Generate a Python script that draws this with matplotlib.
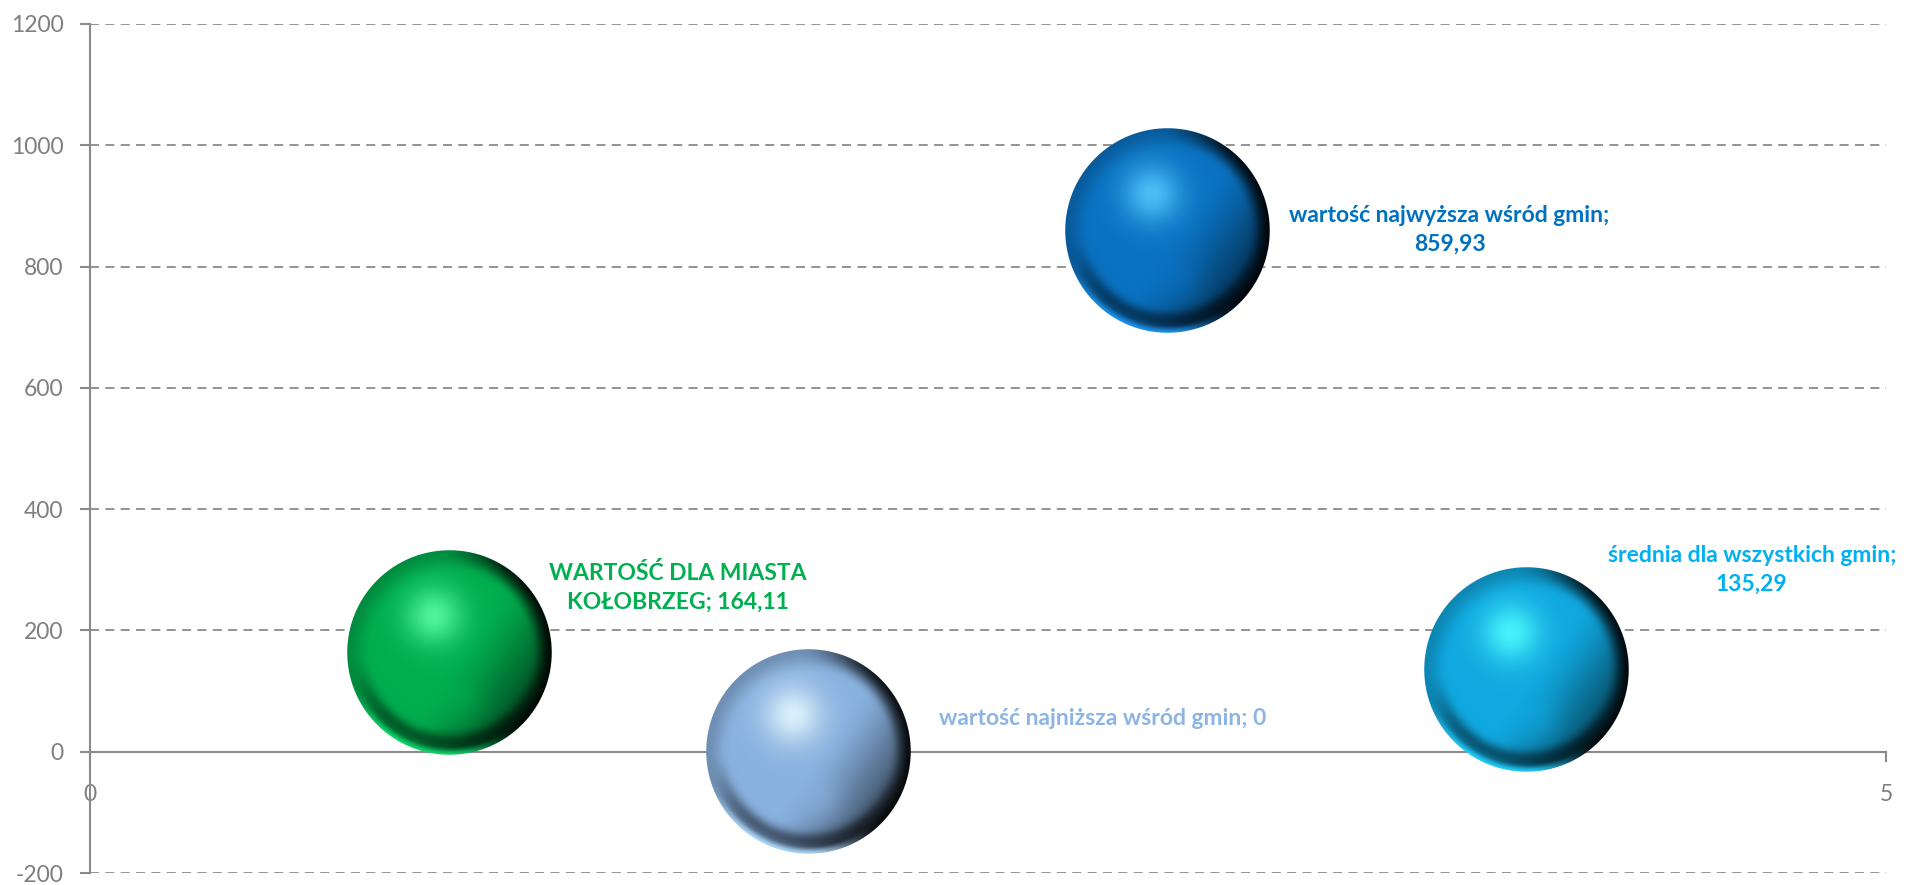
import numpy as np
import matplotlib
matplotlib.use('Agg')
import matplotlib.pyplot as plt
from matplotlib.colors import to_rgb
from matplotlib.offsetbox import OffsetImage, AnnotationBbox

plt.rcParams['font.family'] = ['Lato', 'DejaVu Sans']

# data
x_vals = [1, 2, 3, 4]
y_vals = [164.11, 0, 859.93, 135.29]
names = ['WARTOŚĆ DLA MIASTA\nKOŁOBRZEG', 'wartość najniższa wśród gmin',
         'wartość najwyższa wśród gmin;\n', 'średnia dla wszystkich gmin;\n']
value_text = ['164,11', '0', '859,93', '135,29']
colors = ['#00B050', '#8DB4E2', '#0070C0', '#00B0F0']
body = ['#00AE4E', '#8AB2E0', '#0A72C2', '#10A8E0']
highlights = ['#5CFFA8', '#E8FAFF', '#55CCFF', '#50FFFF']
y_ticks = [-200, 0, 200, 400, 600, 800, 1000, 1200]
x_ticks = [0, 5]

# label offsets in pixels from the bubble centre
offsets = [(229, 65), (294, 33), (282, 0), (225, 100)]

DPI = 100
DIAM = 205  # bubble diameter in pixels


def smooth(a, b, x):
    t = np.clip((x - a) / (b - a), 0, 1)
    return t * t * (3 - 2 * t)


def sphere(base, hl, n=410):
    c = np.array(to_rgb(base))
    h = np.array(to_rgb(hl))
    t = np.linspace(-1, 1, n)
    u, v = np.meshgrid(t, t)
    r = np.sqrt(u ** 2 + v ** 2)
    # darker towards lower right
    p = u * 0.82 + v * 0.57
    shade = 1 - 0.5 * smooth(0.05, 1.0, p)
    shade *= 1 - 0.2 * smooth(0.75, 1.0, r)
    # dark crescent on the right edge
    shade *= 1 - 0.85 * smooth(0.8, 1.0, r) * smooth(-0.1, 0.75, u)
    # dark band above the bottom rim
    band = np.exp(-((r - 0.87) / 0.08) ** 2) * smooth(0.0, 0.75, v)
    shade *= 1 - 0.42 * band
    img = c[None, None, :] * shade[..., None]
    # light reflection along the bottom edge
    rim = smooth(0.92, 1.0, r) * smooth(0.25, 0.85, v) * smooth(0.7, 0.0, u)
    lit = np.clip(c * 1.15 + 0.08, 0, 1)
    img = img + (lit[None, None, :] - img) * (0.9 * rim)[..., None]
    # main highlight
    g = np.exp(-(((u + 0.15) ** 2 + (v + 0.36) ** 2) / (2 * 0.2 ** 2)))
    img = img + (h[None, None, :] - img) * (0.85 * g)[..., None]
    # secondary soft glow lower right
    g2 = np.exp(-(((u - 0.12) ** 2 + (v - 0.47) ** 2) / (2 * 0.15 ** 2)))
    img = img + (c[None, None, :] * 1.05 - img) * (0.35 * g2)[..., None]
    img = np.clip(img, 0, 1)
    alpha = np.clip((1 - r) * n / 2 + 0.5, 0, 1)
    return np.dstack([img, alpha])


fig = plt.figure(figsize=(19.15, 8.85), dpi=DPI)
ax = fig.add_axes([90 / 1915, 1 - 873 / 885, (1886 - 90) / 1915, (873 - 24) / 885])

ax.set_xlim(0, 5)
ax.set_ylim(-200, 1200)
ax.set_yticks(y_ticks)
ax.set_xticks(x_ticks)
ax.set_yticklabels([str(v) for v in y_ticks])
ax.set_xticklabels([str(v) for v in x_ticks])
ax.set_axisbelow(True)
ax.yaxis.grid(True, color='#8A8A8A', linewidth=1.3, linestyle=(0, (5, 3.5)))

for s in ['top', 'right']:
    ax.spines[s].set_visible(False)
ax.spines['left'].set_color('#8A8A8A')
ax.spines['left'].set_linewidth(1.5)
ax.spines['bottom'].set_position(('data', 0))
ax.spines['bottom'].set_color('#8A8A8A')
ax.spines['bottom'].set_linewidth(1.5)

ax.tick_params(axis='y', length=7, width=1.5, color='#8A8A8A', labelcolor='#7F7F7F',
               labelsize=16.5, pad=12)
ax.tick_params(axis='x', length=7, width=1.5, color='#8A8A8A', labelcolor='#7F7F7F',
               labelsize=16.5, pad=16)

for i in range(len(x_vals)):
    img = sphere(body[i], highlights[i])
    oi = OffsetImage(img, zoom=DIAM / img.shape[0] * 72 / DPI)
    ab = AnnotationBbox(oi, (x_vals[i], y_vals[i]), frameon=False, pad=0,
                        box_alignment=(0.5, 0.5), zorder=5, annotation_clip=False)
    ax.add_artist(ab)
    if names[i].endswith('\n'):
        txt = names[i] + value_text[i]
    else:
        txt = names[i] + '; ' + value_text[i]
    ax.annotate(txt, xy=(x_vals[i], y_vals[i]), xytext=offsets[i],
                textcoords='offset pixels', ha='center', va='center',
                fontsize=16.5, fontweight='bold', color=colors[i],
                linespacing=1.45, zorder=6)

fig.savefig('out.png', dpi=DPI)
